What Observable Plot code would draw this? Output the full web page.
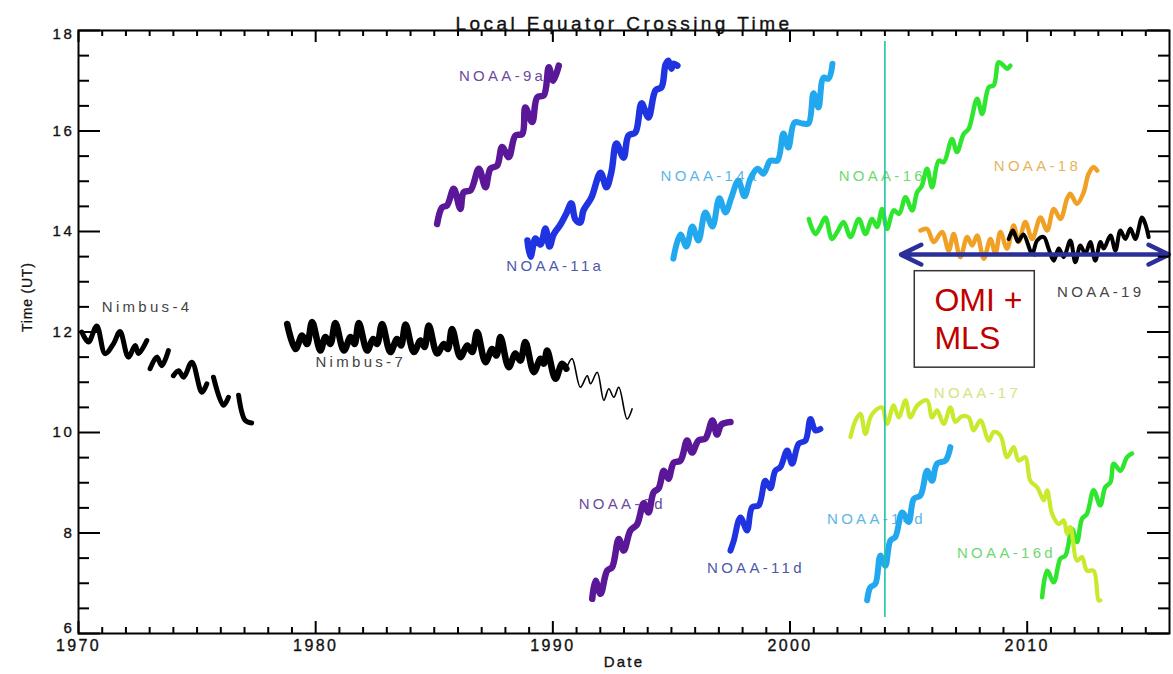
<!DOCTYPE html>
<html><head><meta charset="utf-8">
<script src="https://cdn.jsdelivr.net/npm/d3@7"></script>
<script src="https://cdn.jsdelivr.net/npm/@observablehq/plot@0.6"></script>
<style>
html,body{margin:0;padding:0;background:#fff;}
#chart svg{display:block;}
</style></head>
<body><div id="chart"></div>
<script>
// ---------- data: [year, local equator crossing time (UT)] ----------
const nimbus4 = [[1970.14,12.00],[1970.42,11.80],[1970.77,12.12],[1971.12,11.57],[1971.48,11.77],[1971.75,12.01],[1972.10,11.50],[1972.39,11.73],[1972.53,11.57],[1972.88,11.83],[1972.95,null],[1973.02,11.27],[1973.30,11.50],[1973.51,11.33],[1973.79,11.63],[1973.90,null],[1974.00,11.13],[1974.22,11.23],[1974.43,11.10],[1974.78,11.40],[1975.20,10.80],[1975.41,10.97],[1975.55,null],[1975.69,11.10],[1976.11,10.54],[1976.32,10.70],[1976.50,null],[1976.75,10.74],[1977.03,10.24],[1977.30,10.19]];
const nimbus7Thick = [[1978.80,12.16],[1979.15,11.66],[1979.43,11.93],[1979.64,11.76],[1979.85,12.20],[1980.20,11.63],[1980.41,11.90],[1980.62,11.76],[1980.83,12.18],[1981.19,11.63],[1981.47,11.90],[1981.64,11.76],[1981.82,12.18],[1982.17,11.63],[1982.42,11.86],[1982.59,11.76],[1982.80,12.16],[1983.15,11.60],[1983.43,11.86],[1983.60,11.73],[1983.79,12.15],[1984.14,11.60],[1984.42,11.83],[1984.59,11.70],[1984.77,12.13],[1985.12,11.57],[1985.40,11.76],[1985.57,11.66],[1985.75,12.06],[1986.10,11.50],[1986.39,11.73],[1986.60,11.60],[1986.81,12.00],[1987.16,11.40],[1987.44,11.66],[1987.62,11.53],[1987.79,11.90],[1988.14,11.30],[1988.42,11.57],[1988.63,11.43],[1988.84,11.80],[1989.20,11.20],[1989.48,11.47],[1989.62,11.37],[1989.76,11.63],[1990.11,11.07],[1990.39,11.37],[1990.57,11.27]];
const nimbus7Thin = [[1990.57,11.27],[1990.81,11.47],[1991.16,10.90],[1991.45,11.13],[1991.59,10.97],[1991.87,11.20],[1992.15,10.64],[1992.36,10.87],[1992.57,10.70],[1992.78,10.90],[1993.13,10.27],[1993.34,10.47]];
const noaa9a = [[1985.12,14.15],[1985.33,14.48],[1985.54,14.52],[1985.82,14.85],[1986.10,14.45],[1986.24,14.78],[1986.53,14.82],[1986.88,15.25],[1987.16,14.88],[1987.37,15.25],[1987.65,15.31],[1987.86,15.68],[1988.14,15.48],[1988.42,15.91],[1988.71,15.94],[1988.84,16.47],[1989.13,16.18],[1989.34,16.67],[1989.62,16.71],[1989.83,17.27],[1990.01,17.00],[1990.25,17.30]];
const noaa9d = [[1991.66,6.69],[1991.80,7.05],[1992.01,6.79],[1992.29,7.25],[1992.50,7.32],[1992.78,7.88],[1992.99,7.65],[1993.27,8.05],[1993.55,8.17],[1993.83,8.59],[1994.03,8.41],[1994.25,8.81],[1994.46,8.89],[1994.68,9.24],[1994.87,9.08],[1995.10,9.40],[1995.38,9.44],[1995.66,9.84],[1995.87,9.60],[1996.14,9.84],[1996.43,9.88],[1996.73,10.24],[1996.92,9.96],[1997.11,10.16],[1997.49,10.21]];
const noaa11a = [[1988.93,13.82],[1989.06,13.50],[1989.27,13.86],[1989.48,13.74],[1989.69,14.06],[1989.86,13.70],[1990.03,13.94],[1990.32,14.14],[1990.57,14.36],[1990.78,14.56],[1990.95,14.24],[1991.16,14.18],[1991.29,14.42],[1991.63,14.68],[1992.01,15.17],[1992.26,14.88],[1992.47,15.19],[1992.68,15.75],[1992.98,15.47],[1993.19,15.91],[1993.48,15.97],[1993.74,16.55],[1994.03,16.27],[1994.33,16.81],[1994.58,16.87],[1994.75,17.32],[1994.87,17.40],[1995.00,17.24],[1995.08,17.34],[1995.25,17.30]];
const noaa11d = [[1997.49,7.65],[1997.63,7.85],[1997.91,8.31],[1998.19,8.05],[1998.40,8.51],[1998.68,8.55],[1998.96,9.04],[1999.17,8.89],[1999.38,9.24],[1999.59,9.31],[1999.88,9.64],[2000.09,9.38],[2000.37,9.78],[2000.65,9.84],[2000.86,10.27],[2001.07,10.04],[2001.28,10.07]];
const noaa14a = [[1995.08,13.46],[1995.38,13.94],[1995.63,13.70],[1995.88,14.10],[1996.14,13.82],[1996.43,14.38],[1996.73,14.10],[1997.02,14.66],[1997.28,14.38],[1997.53,14.68],[1997.82,15.01],[1998.08,14.70],[1998.33,15.05],[1998.63,15.25],[1998.88,15.15],[1999.17,15.41],[1999.47,15.41],[1999.72,15.95],[1999.93,15.67],[2000.19,16.17],[2000.52,16.15],[2000.78,16.15],[2000.99,16.75],[2001.20,16.47],[2001.41,17.06],[2001.62,17.04],[2001.79,17.34]];
const noaa14d = [[2003.25,6.66],[2003.39,6.92],[2003.60,6.99],[2003.81,7.55],[2004.02,7.35],[2004.23,7.85],[2004.44,7.92],[2004.73,8.41],[2005.00,8.22],[2005.22,8.68],[2005.50,8.75],[2005.78,9.24],[2005.99,9.04],[2006.20,9.38],[2006.55,9.44],[2006.76,9.71]];
const noaa16 = [[2000.79,14.25],[2001.07,13.95],[2001.28,14.10],[2001.49,14.28],[2001.77,13.85],[2002.00,14.00],[2002.26,14.19],[2002.55,13.89],[2002.90,14.25],[2003.18,13.95],[2003.46,14.25],[2003.67,14.09],[2003.88,14.45],[2004.09,14.05],[2004.37,14.42],[2004.60,14.35],[2004.87,14.68],[2005.15,14.42],[2005.36,14.78],[2005.55,14.90],[2005.78,15.25],[2005.99,14.88],[2006.27,15.41],[2006.48,15.38],[2006.83,15.84],[2007.04,15.58],[2007.32,15.94],[2007.53,16.04],[2007.89,16.64],[2008.10,16.34],[2008.38,16.87],[2008.59,16.91],[2008.80,17.37],[2009.01,17.30],[2009.15,17.24],[2009.29,17.30]];
const noaa16d = [[2010.63,6.72],[2010.84,7.25],[2011.12,7.02],[2011.40,7.49],[2011.61,7.55],[2011.89,8.08],[2012.10,7.82],[2012.31,8.28],[2012.52,8.38],[2012.80,8.85],[2013.08,8.55],[2013.29,8.91],[2013.51,9.01],[2013.65,9.38],[2013.93,9.24],[2014.21,9.51],[2014.42,9.58]];
const noaa17 = [[2002.55,9.91],[2002.76,10.24],[2002.97,10.37],[2003.18,9.97],[2003.39,10.30],[2003.60,10.44],[2003.88,10.50],[2004.09,10.17],[2004.37,10.54],[2004.58,10.30],[2004.87,10.64],[2005.07,10.30],[2005.37,10.54],[2005.78,10.64],[2005.99,10.30],[2006.20,10.44],[2006.48,10.17],[2006.76,10.50],[2006.97,10.21],[2007.23,10.32],[2007.53,10.30],[2007.74,10.04],[2008.03,10.24],[2008.38,9.84],[2008.59,10.01],[2008.87,9.94],[2009.15,9.51],[2009.43,9.71],[2009.64,9.44],[2009.92,9.51],[2010.13,9.04],[2010.42,8.91],[2010.70,8.65],[2010.84,8.85],[2011.05,8.38],[2011.33,8.18],[2011.54,8.25],[2011.68,7.98],[2011.82,8.12],[2012.10,7.45],[2012.31,7.52],[2012.52,7.25],[2012.80,7.25],[2013.01,6.66],[2013.08,6.66]];
const noaa18 = [[2005.50,14.02],[2005.78,14.05],[2006.06,13.79],[2006.41,13.99],[2006.69,13.62],[2006.90,13.95],[2007.18,13.49],[2007.47,13.89],[2007.68,13.72],[2007.89,13.92],[2008.17,13.46],[2008.45,13.85],[2008.66,13.56],[2008.87,13.99],[2009.15,13.66],[2009.43,14.12],[2009.64,13.79],[2009.92,14.19],[2010.21,13.85],[2010.56,14.28],[2010.84,14.02],[2011.12,14.45],[2011.40,14.25],[2011.68,14.65],[2011.82,14.75],[2012.10,14.55],[2012.38,14.78],[2012.59,15.15],[2012.80,15.28],[2012.95,15.21]];
const noaa19 = [[2009.22,13.85],[2009.40,14.02],[2009.61,13.80],[2009.84,13.94],[2010.21,13.56],[2010.42,13.82],[2010.70,13.89],[2010.90,13.66],[2011.12,13.42],[2011.33,13.66],[2011.54,13.49],[2011.82,13.82],[2012.03,13.39],[2012.24,13.72],[2012.45,13.56],[2012.66,13.79],[2012.87,13.42],[2013.09,13.79],[2013.23,13.66],[2013.51,13.92],[2013.72,13.62],[2013.93,14.02],[2014.14,13.85],[2014.35,14.06],[2014.56,13.85],[2014.84,14.28],[2014.98,14.15],[2015.12,13.89]];

// series labels
const labelText  = ["Nimbus-4","Nimbus-7","NOAA-9a","NOAA-11a","NOAA-14a","NOAA-16","NOAA-18","NOAA-19","NOAA-17","NOAA-9d","NOAA-11d","NOAA-14d","NOAA-16d"];
const labelYear  = [1970.98,1979.99,1986.04,1988.04,1994.54,2002.05,2008.59,2011.26,2006.06,1991.09,1996.50,2001.56,2007.04];
const labelTime  = [12.49,11.39,17.10,13.30,15.10,15.11,15.30,12.79,10.78,8.58,7.29,8.28,7.60];
const labelColor = ["#444","#444","#6b4a9c","#4c58a8","#5cb6e6","#6fd86f","#e6b45c","#444","#d2e57e","#6b4a9c","#4c58a8","#5cb6e6","#6fd86f"];

// axis ticks
const xMajorTicks = [1970,1980,1990,2000,2010];
const xMinorTicks = d3.range(1971,2016).filter(d => !xMajorTicks.includes(d));
const yMajorTicks = [6,8,10,12,14,16,18];
const yMinorTicks = d3.range(6.5,18,0.5).filter(d => !yMajorTicks.includes(d));
const titleText = "Local Equator Crossing Time";
const xLabel = "Date";
const yLabel = "Time (UT)";

// annotation: OMI + MLS period
const omiStart = 2004.0;
const omiLineSpan = [6.32,17.78];
const arrowYears = [2004.68, 2015.97];
const arrowTime = 13.54;
const boxYears = [2005.26, 2010.32];
const boxTimes = [11.29, 13.21];
const boxText = ["OMI +","MLS"];
const boxTextYear = 2006.09;
const boxTextTime = [12.62, 11.86];

// ---------- chart ----------
const W = 1173, H = 674, mL = 78, mR = 4, mT = 30, mB = 41;
const plotW = W - mL - mR, plotH = H - mT - mB;

const series = [
  {data: nimbus4, color: "#000", width: 5},
  {data: nimbus7Thick, color: "#000", width: 6.5},
  {data: nimbus7Thin, color: "#000", width: 1.6},
  {data: noaa9a, color: "#5a1898", width: 6.5},
  {data: noaa9d, color: "#5a1898", width: 6.5},
  {data: noaa11a, color: "#1f33e0", width: 6.5},
  {data: noaa11d, color: "#1f33e0", width: 6},
  {data: noaa14a, color: "#22a8ee", width: 6},
  {data: noaa14d, color: "#22a8ee", width: 6},
  {data: noaa16, color: "#2ee62e", width: 4.5},
  {data: noaa16d, color: "#2ee62e", width: 4.5},
  {data: noaa17, color: "#c8ea2c", width: 4.2},
  {data: noaa18, color: "#f0a125", width: 4.5},
  {data: noaa19, color: "#000", width: 4}
];

const labels = labelText.map((t,i) => ({t, x: labelYear[i], y: labelTime[i], c: labelColor[i]}));
const ink = {fill: "#111", stroke: "#111", strokeWidth: 0.35};
const yInner = yMajorTicks.slice(1, -1);

const marks = [
  Plot.text(labels, {x: "x", y: "y", text: "t", fill: "c", textAnchor: "start", fontSize: 15}),
  ...series.map(s => Plot.line(s.data, {x: d => d[0], y: d => d[1], stroke: s.color, strokeWidth: s.width,
      curve: "catmull-rom", strokeLinejoin: "round", strokeLinecap: "round"})),
  Plot.ruleX([omiStart], {x: d => d, y1: omiLineSpan[0], y2: omiLineSpan[1], stroke: "#1fc3a2", strokeWidth: 1.6}),
  Plot.rect([0], {x1: boxYears[0], x2: boxYears[1], y1: boxTimes[0], y2: boxTimes[1], fill: "white", stroke: "#333", strokeWidth: 1.5}),
  Plot.text(boxText, {x: boxTextYear, y: (d,i) => boxTextTime[i], text: d => d, fill: "#c00000", fontSize: 32, textAnchor: "start"}),
  Plot.arrow(arrowYears, {x1: (arrowYears[0]+arrowYears[1])/2, y1: arrowTime, x2: d => d, y2: arrowTime,
      stroke: "#2b2f98", strokeWidth: 4.5, headLength: 7.5, headAngle: 52}),
  Plot.frame({stroke: "#000", strokeWidth: 2}),
  // inward ticks on all four sides
  Plot.ruleX(xMajorTicks, {x: d => d, insetTop: plotH - 12, stroke: "#000", strokeWidth: 2}),
  Plot.ruleX(xMajorTicks, {x: d => d, insetBottom: plotH - 12, stroke: "#000", strokeWidth: 2}),
  Plot.ruleX(xMinorTicks, {x: d => d, insetTop: plotH - 6, stroke: "#000", strokeWidth: 2}),
  Plot.ruleX(xMinorTicks, {x: d => d, insetBottom: plotH - 6, stroke: "#000", strokeWidth: 2}),
  Plot.ruleY(yMajorTicks, {y: d => d, insetRight: plotW - 22, stroke: "#000", strokeWidth: 2}),
  Plot.ruleY(yMajorTicks, {y: d => d, insetLeft: plotW - 22, stroke: "#000", strokeWidth: 2}),
  Plot.ruleY(yMinorTicks, {y: d => d, insetRight: plotW - 11, stroke: "#000", strokeWidth: 2}),
  Plot.ruleY(yMinorTicks, {y: d => d, insetLeft: plotW - 11, stroke: "#000", strokeWidth: 2}),
  // tick labels (end labels nudged inward as in the original)
  Plot.text(xMajorTicks, {x: d => d, text: d => String(d), frameAnchor: "bottom", dy: 17, fontSize: 16, ...ink}),
  Plot.text(yInner, {y: d => d, text: d => String(d), frameAnchor: "left", dx: -4, textAnchor: "end", fontSize: 15, ...ink}),
  Plot.text([yMajorTicks[0]], {y: d => d, text: d => String(d), frameAnchor: "left", dx: -4, dy: -5, textAnchor: "end", fontSize: 15, ...ink}),
  Plot.text([yMajorTicks[yMajorTicks.length - 1]], {y: d => d, text: d => String(d), frameAnchor: "left", dx: -4, dy: 4, textAnchor: "end", fontSize: 15, ...ink}),
  // titles
  Plot.text([titleText], {frameAnchor: "top", dy: -14, fontSize: 19, ...ink}),
  Plot.text([xLabel], {frameAnchor: "bottom", dy: 33, fontSize: 15, ...ink}),
  Plot.text([yLabel], {frameAnchor: "left", dx: -51, rotate: -90, fontSize: 14, ...ink, strokeWidth: 0.25})
];

const chart = Plot.plot({
  width: W, height: H,
  marginLeft: mL, marginRight: mR, marginTop: mT, marginBottom: mB,
  x: {domain: [1970, 2016], axis: null},
  y: {domain: [6, 18], axis: null},
  style: {fontFamily: "'Liberation Sans', Arial, sans-serif", background: "#fff", color: "#000"},
  marks
});

// letter spacing to mimic the wide vector font of the original
const spacing = (txt) => {
  if (boxText.includes(txt)) return "0px";
  if (labelText.includes(txt)) return "3.3px";
  if (txt === titleText) return "3.45px";
  if (txt === xLabel) return "2.2px";
  if (txt === yLabel) return "0.8px";
  if (xMajorTicks.map(String).includes(txt)) return "2.4px";
  if (yMajorTicks.map(String).includes(txt)) return "2.6px";
  return null;
};
d3.select(chart).selectAll("text").each(function() {
  const s = spacing(this.textContent);
  if (s) d3.select(this).style("letter-spacing", s);
});
document.getElementById("chart").appendChild(chart);
</script>
</body></html>
